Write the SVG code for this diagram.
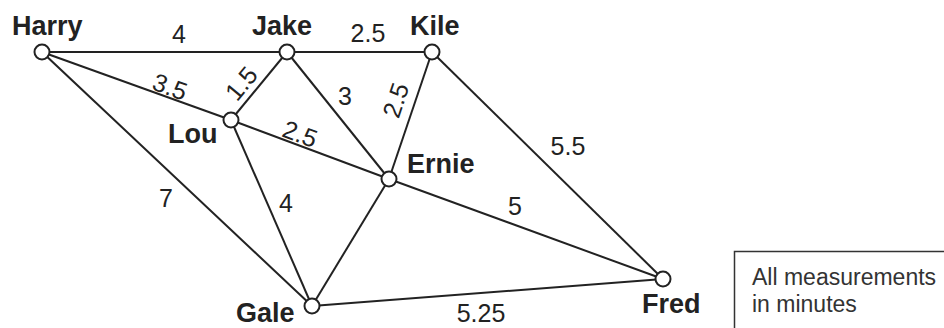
<svg xmlns="http://www.w3.org/2000/svg" width="944" height="328" viewBox="0 0 944 328">
<style>
.e{stroke:#222;stroke-width:2;fill:none}
.n{fill:#fff;stroke:#222;stroke-width:2}
.nl{font-family:"Liberation Sans",Arial,sans-serif;font-weight:bold;font-size:27px;fill:#222}
.el{font-family:"Liberation Sans",Arial,sans-serif;font-size:25px;fill:#222;text-anchor:middle}
.bx{font-family:"Liberation Sans",Arial,sans-serif;font-size:23px;fill:#333}
</style>
<rect width="944" height="328" fill="#fff"/>
<g id="connectors">
<line class="e" x1="42" y1="52" x2="287" y2="52"/>
<line class="e" x1="42" y1="52" x2="231" y2="120"/>
<line class="e" x1="42" y1="52" x2="312" y2="306"/>
<line class="e" x1="287" y1="52" x2="231" y2="120"/>
<line class="e" x1="287" y1="52" x2="432" y2="52"/>
<line class="e" x1="287" y1="52" x2="389" y2="179"/>
<line class="e" x1="231" y1="120" x2="389" y2="179"/>
<line class="e" x1="231" y1="120" x2="312" y2="306"/>
<line class="e" x1="432" y1="52" x2="389" y2="179"/>
<line class="e" x1="432" y1="52" x2="663" y2="279"/>
<line class="e" x1="389" y1="179" x2="312" y2="306"/>
<line class="e" x1="389" y1="179" x2="663" y2="279"/>
<line class="e" x1="312" y1="306" x2="663" y2="279"/>
<text class="el" x="179" y="43">4</text>
<text class="el" x="368" y="42">2.5</text>
<text class="el" transform="translate(167,95) rotate(19.8)">3.5</text>
<text class="el" transform="translate(248,89) rotate(-50.5)">1.5</text>
<text class="el" transform="translate(297,142) rotate(20.5)">2.5</text>
<text class="el" x="345" y="105">3</text>
<text class="el" transform="translate(404,103) rotate(-71.3)">2.5</text>
<text class="el" x="568" y="155">5.5</text>
<text class="el" x="515" y="215">5</text>
<text class="el" x="166" y="207">7</text>
<text class="el" x="286" y="212">4</text>
<text class="el" x="481" y="322">5.25</text>
</g>
<g id="Harry"><circle class="n" cx="42" cy="52" r="7.5"/><text class="nl" x="12" y="35">Harry</text></g>
<g id="Jake"><circle class="n" cx="287" cy="52" r="7.5"/><text class="nl" x="252" y="35">Jake</text></g>
<g id="Kile"><circle class="n" cx="432" cy="52" r="7.5"/><text class="nl" x="410" y="35">Kile</text></g>
<g id="Lou"><circle class="n" cx="231" cy="120" r="7.5"/><text class="nl" x="168" y="143">Lou</text></g>
<g id="Ernie"><circle class="n" cx="389" cy="179" r="7.5"/><text class="nl" x="407" y="173">Ernie</text></g>
<g id="Gale"><circle class="n" cx="312" cy="306" r="7.5"/><text class="nl" x="236" y="322">Gale</text></g>
<g id="Fred"><circle class="n" cx="663" cy="279" r="7.5"/><text class="nl" x="642" y="313">Fred</text></g>
<g id="note">
<path d="M734.5,340 V251.5 H960" fill="none" stroke="#333" stroke-width="1.5"/>
<text class="bx" x="752" y="285">All measurements</text>
<text class="bx" x="752" y="312">in minutes</text>
</g>
</svg>
